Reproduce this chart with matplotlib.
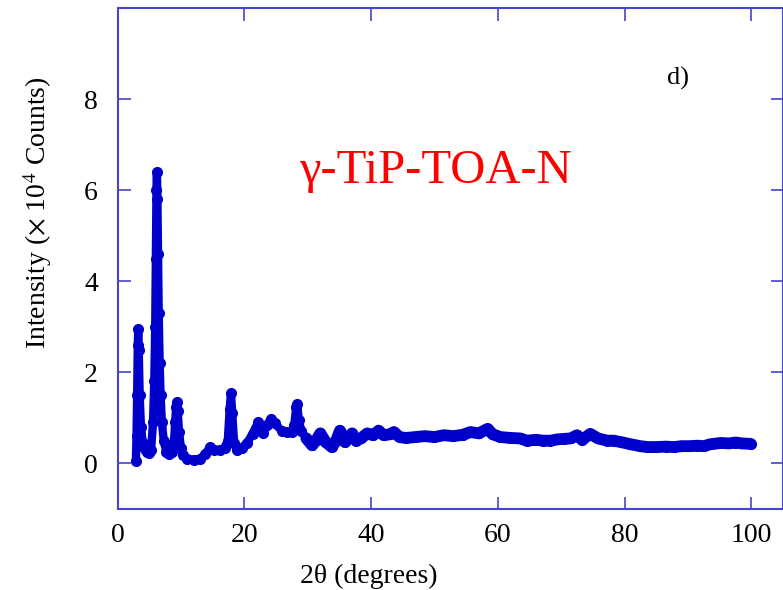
import numpy as np
import matplotlib
matplotlib.use("Agg")
import matplotlib.pyplot as plt

plt.rcParams['font.family'] = ['Liberation Serif', 'DejaVu Serif']
plt.rcParams['mathtext.fontset'] = 'stix'

# XRD pattern (2theta in degrees, intensity in 10^4 counts)
two_theta = [2.9, 3.0, 3.1, 3.2, 3.27, 3.35, 3.5, 3.7, 4.0, 4.3, 4.7, 5.0,
             5.3, 5.6, 5.8, 5.95, 6.05, 6.15, 6.22, 6.3, 6.4, 6.5, 6.65, 6.8,
             7.0, 7.3, 7.7, 8.2, 8.6, 8.9, 9.1, 9.25, 9.35, 9.5, 9.7, 10.0,
             10.4, 11.0, 12.0, 13.0, 13.8, 14.6, 15.3, 16.2, 16.9, 17.4, 17.7,
             17.9, 18.1, 18.4, 18.8, 19.6, 20.4, 21.3, 22.2, 22.6, 23.0, 23.6,
             24.2, 24.8, 25.9, 26.8, 27.5, 27.9, 28.2, 28.35, 28.6, 29.0, 29.8,
             30.7, 31.4, 32.0, 32.8, 33.8, 34.5, 35.1, 35.6, 35.9, 36.4, 37.0,
             37.6, 38.4, 39.4, 40.3, 41.2, 42.0, 43.0, 43.6, 44.5, 45.5, 47.0,
             48.5, 50.0, 51.5, 53.0, 54.5, 55.7, 57.0, 58.4, 59.2, 60.4, 62.0,
             63.5, 64.6, 66.0, 67.2, 68.3, 69.5, 70.5, 71.5, 72.5, 73.3, 74.6,
             75.8, 77.3, 78.3, 79.4, 81.0, 82.5, 83.6, 85.0, 86.5, 87.8, 89.0,
             90.3, 91.5, 92.5, 93.5, 95.2, 96.5, 97.5, 98.5, 99.9]
intensity = [0.05, 0.6, 1.5, 2.6, 2.95, 2.5, 1.5, 0.8, 0.45, 0.32, 0.25, 0.22,
             0.3, 0.9, 1.8, 3.0, 4.5, 6.0, 6.4, 5.8, 4.6, 3.3, 2.2, 1.5,
             0.9, 0.5, 0.25, 0.2, 0.25, 0.45, 0.9, 1.25, 1.35, 1.15, 0.7, 0.35,
             0.18, 0.1, 0.08, 0.1, 0.2, 0.36, 0.3, 0.3, 0.35, 0.5, 1.2,
             1.55, 1.1, 0.45, 0.3, 0.35, 0.44, 0.65, 0.91, 0.8, 0.66, 0.85,
             0.98, 0.88, 0.72, 0.68, 0.69, 0.85, 1.25, 1.3, 0.95, 0.72, 0.55,
             0.40, 0.52, 0.66, 0.48, 0.36, 0.5, 0.72, 0.58, 0.47, 0.55, 0.66,
             0.5, 0.55, 0.66, 0.62, 0.72, 0.62, 0.64, 0.69, 0.58, 0.56, 0.58,
             0.6, 0.58, 0.62, 0.6, 0.63, 0.69, 0.66, 0.76, 0.64, 0.58, 0.56,
             0.55, 0.5, 0.52, 0.5, 0.5, 0.53, 0.54, 0.55, 0.62, 0.52, 0.65,
             0.55, 0.5, 0.5, 0.47, 0.42, 0.38, 0.36, 0.36, 0.37, 0.36, 0.38,
             0.38, 0.39, 0.38, 0.42, 0.45, 0.44, 0.46, 0.44, 0.43]

axis_blue = '#4444cc'
data_blue = '#0000cc'

fig = plt.figure(figsize=(7.83, 5.90), dpi=100)
ax = fig.add_axes([117.5 / 783, 81 / 590, 1 - 117.5 / 783, 501 / 590])

tt = np.array(two_theta)
ii = np.array(intensity)
ax.plot(tt, ii, '-o', color=data_blue, lw=6, ms=7,
        solid_capstyle='round', solid_joinstyle='round')
# the noisy flat part of the scan shows up as a wider band
flat = tt >= 29.8
ax.plot(tt[flat], ii[flat], '-', color=data_blue, lw=8.5,
        solid_capstyle='round', solid_joinstyle='round')

ax.set_xlim(0, 105)
ax.set_ylim(-1, 10)
ax.set_xticks([0, 20, 40, 60, 80, 100])
ax.set_yticks([0, 2, 4, 6, 8])

for s in ax.spines.values():
    s.set_color(axis_blue)
    s.set_linewidth(1.5)
ax.tick_params(direction='in', length=9, width=1.2, color=axis_blue,
               top=True, right=True, labelsize=20)
ax.tick_params(axis='y', pad=14)
ax.tick_params(axis='x', pad=10)

fig.text(38 / 783, 1 - 213 / 590, r'Intensity ($\times$ 10$^{4}$ Counts)',
         rotation=90, ha='center', va='center', fontsize=20)
fig.text(369 / 783, 1 - 576 / 590, '2\u03b8 (degrees)',
         ha='center', va='center', fontsize=20)

fig.text(435.5 / 783, 1 - 183 / 590, '\u03b3-TiP-TOA-N', color='red',
         ha='center', va='baseline', fontsize=35)
fig.text(678 / 783, 1 - 78 / 590, 'd)', ha='center', va='center', fontsize=19)

fig.savefig('out.png', dpi=100)
